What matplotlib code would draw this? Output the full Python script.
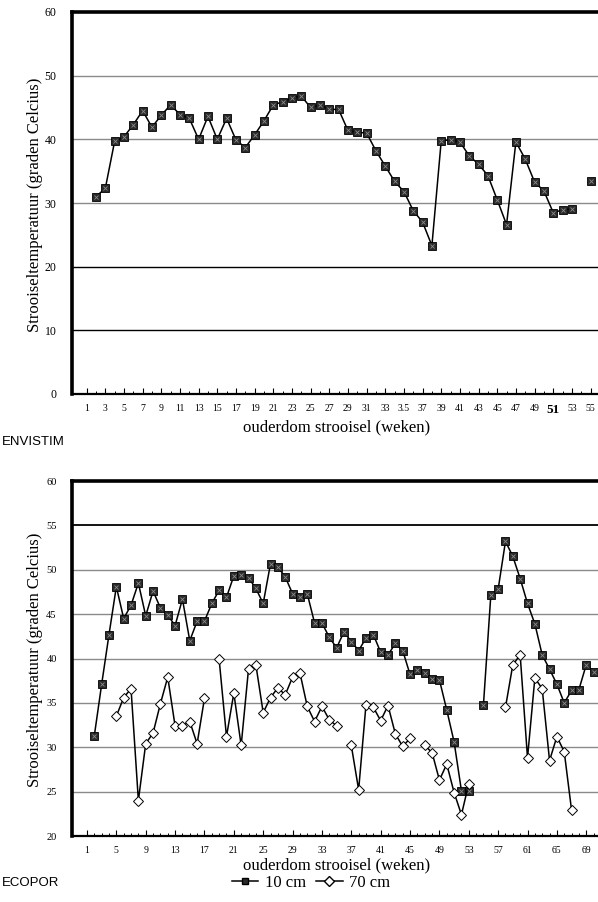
import numpy as np
import matplotlib
matplotlib.use("Agg")
import matplotlib.pyplot as plt
from matplotlib.lines import Line2D

nan = np.nan

# ENVISTIM: litter temperature (10 cm), one reading per week
envistim_weeks = list(range(2, 56))
envistim_temp = [
    31.0, 32.3, 39.7, 40.4, 42.3, 44.5, 41.9, 43.8, 45.4, 43.9,
    43.3, 40.0, 43.6, 40.0, 43.3, 39.9, 38.7, 40.7, 42.9, 45.4,
    45.9, 46.5, 46.8, 45.0, 45.4, 44.7, 44.7, 41.4, 41.1, 41.0,
    38.2, 35.8, 33.4, 31.8, 28.8, 27.0, 23.3, 39.8, 39.9, 39.6,
    37.4, 36.1, 34.3, 30.5, 26.6, 39.6, 36.9, 33.3, 31.9, 28.5,
    28.9, 29.1, nan, 33.4,
]
envistim_ticks = list(range(1, 56, 2))
envistim_ticklabels = ["3.5" if w == 35 else str(w) for w in envistim_ticks]

# ECOPOR: litter temperature at 10 cm and 70 cm depth
ecopor_weeks = list(range(2, 71))
ecopor_10cm = [
    31.3, 37.1, 42.7, 48.1, 44.5, 46.0, 48.5, 44.8, 47.6, 45.7,
    44.9, 43.7, 46.7, 42.0, 44.2, 44.2, 46.2, 47.7, 46.9, 49.3,
    49.4, 49.1, 47.9, 46.2, 50.7, 50.3, 49.2, 47.3, 46.9, 47.3,
    44.0, 44.0, 42.4, 41.2, 43.0, 41.9, 40.9, 42.3, 42.7, 40.7,
    40.4, 41.7, 40.9, 38.2, 38.7, 38.4, 37.7, 37.6, 34.2, 30.6,
    25.1, 25.1, nan, 34.8, 47.1, 47.8, 53.2, 51.5, 49.0, 46.2,
    43.9, 40.4, 38.8, 37.1, 35.0, 36.4, 36.5, 39.3, 38.5,
]
ecopor_70cm = [
    nan, nan, nan, 33.5, 35.6, 36.6, 24.0, 30.4, 31.6, 34.9,
    37.9, 32.4, 32.4, 32.9, 30.4, 35.5, nan, 39.9, 31.2, 36.1,
    30.2, 38.8, 39.3, 33.9, 35.6, 36.7, 35.9, 37.9, 38.4, 34.6,
    32.9, 34.6, 33.1, 32.4, nan, 30.2, 25.2, 34.8, 34.5, 33.0,
    34.7, 31.5, 30.1, 31.0, nan, 30.2, 29.4, 26.3, 28.1, 24.9,
    22.4, 25.9, nan, nan, nan, nan, 34.5, 39.3, 40.4, 28.8,
    37.8, 36.6, 28.5, 31.2, 29.5, 22.9, nan, nan, nan,
]
ecopor_ticks = list(range(1, 70, 4))
ecopor_ticklabels = [str(w) for w in ecopor_ticks]

SERIF = ["Liberation Serif", "DejaVu Serif"]
SANS = ["Liberation Sans", "DejaVu Sans"]

W, H = 598, 902
fig = plt.figure(figsize=(W / 100, H / 100), dpi=100)


def axes_px(left, top, right, bottom):
    return fig.add_axes([left / W, 1 - bottom / H, (right - left) / W, (bottom - top) / H])


def style_axes(ax, ylabelsize):
    ax.spines["right"].set_visible(False)
    ax.spines["left"].set_linewidth(2.6)
    ax.spines["top"].set_linewidth(2.6)
    ax.spines["bottom"].set_linewidth(1.6)
    ax.tick_params(axis="y", length=0, pad=11, labelsize=ylabelsize)
    ax.tick_params(axis="x", which="major", direction="in", length=4, width=0.8,
                   labelsize=7, pad=7)
    ax.tick_params(axis="x", which="minor", direction="in", length=2, width=0.7)
    for lab in ax.get_xticklabels() + ax.get_yticklabels():
        lab.set_fontfamily(SERIF)


def square_series(ax, x, y):
    ax.plot(x, y, color="black", lw=1.1, marker="s", ms=5.2,
            mfc="#2a2a2a", mec="black", mew=0.6, zorder=3)
    ax.plot(x, y, ls="none", marker="x", ms=3.0, mec="#8c8c8c", mew=0.6, zorder=4)


# ---------- ENVISTIM ----------
ax1 = axes_px(72, 12, 598, 394)
ax1.set_xlim(-0.57, 55.8)
ax1.set_ylim(0, 60)
for level, col, lw in [(10, "black", 1.0), (20, "black", 1.0), (30, "#8a8a8a", 1.0),
                       (40, "#8a8a8a", 1.0), (50, "#8a8a8a", 1.0)]:
    ax1.axhline(level, color=col, lw=lw, zorder=1)
square_series(ax1, envistim_weeks, envistim_temp)
ax1.set_yticks(range(0, 61, 10))
ax1.set_xticks(envistim_ticks)
ax1.set_xticklabels(envistim_ticklabels)
ax1.set_xticks(range(1, 56), minor=True)
style_axes(ax1, 8.5)
for lab in ax1.get_xticklabels():
    if lab.get_text() == "51":
        lab.set_fontsize(9.5)
        lab.set_fontweight("bold")

fig.text(35 / W, 1 - 205 / H, "Strooiseltemperatuur (graden Celcius)", rotation=90,
         ha="center", va="center", fontsize=12, family=SERIF)
fig.text(337 / W, 1 - 427 / H, "ouderdom strooisel (weken)", ha="center", va="center",
         fontsize=12, family=SERIF)
fig.text(2 / W, 1 - 442 / H, "ENVISTIM", ha="left", va="center", fontsize=9.5, family=SANS)

# ---------- ECOPOR ----------
ax2 = axes_px(72, 481, 598, 836)
ax2.set_xlim(-1.04, 70.6)
ax2.set_ylim(20, 60)
for level, col, lw in [(25, "#8a8a8a", 1.0), (30, "#8a8a8a", 1.0), (35, "#8a8a8a", 1.0),
                       (40, "#8a8a8a", 1.0), (45, "#8a8a8a", 1.0), (50, "#8a8a8a", 1.0),
                       (55, "black", 1.3)]:
    ax2.axhline(level, color=col, lw=lw, zorder=1)
square_series(ax2, ecopor_weeks, ecopor_10cm)
ax2.plot(ecopor_weeks, ecopor_70cm, color="black", lw=1.1, marker="D", ms=5,
         mfc="white", mec="black", mew=0.7, zorder=3)
ax2.set_yticks(range(20, 61, 5))
ax2.set_xticks(ecopor_ticks)
ax2.set_xticklabels(ecopor_ticklabels)
ax2.set_xticks(range(1, 71), minor=True)
style_axes(ax2, 7.5)

fig.text(35 / W, 1 - 660 / H, "Strooiseltemperatuur (graden Celcius)", rotation=90,
         ha="center", va="center", fontsize=12, family=SERIF)
fig.text(337 / W, 1 - 865 / H, "ouderdom strooisel (weken)", ha="center", va="center",
         fontsize=12, family=SERIF)
fig.text(2 / W, 1 - 883 / H, "ECOPOR", ha="left", va="center", fontsize=9.5, family=SANS)

handles = [
    Line2D([], [], color="black", lw=1.1, marker="s", ms=5, mfc="#2a2a2a", mec="black"),
    Line2D([], [], color="black", lw=1.1, marker="D", ms=5, mfc="white", mec="black"),
]
fig.legend(handles, ["10 cm", "70 cm"], loc="center", bbox_to_anchor=(311 / W, 1 - 883 / H),
           ncol=2, frameon=False, handlelength=1.6, handletextpad=0.4, columnspacing=0.6,
           prop={"family": SERIF, "size": 12}, borderpad=0)

fig.savefig("out.png", dpi=100)
